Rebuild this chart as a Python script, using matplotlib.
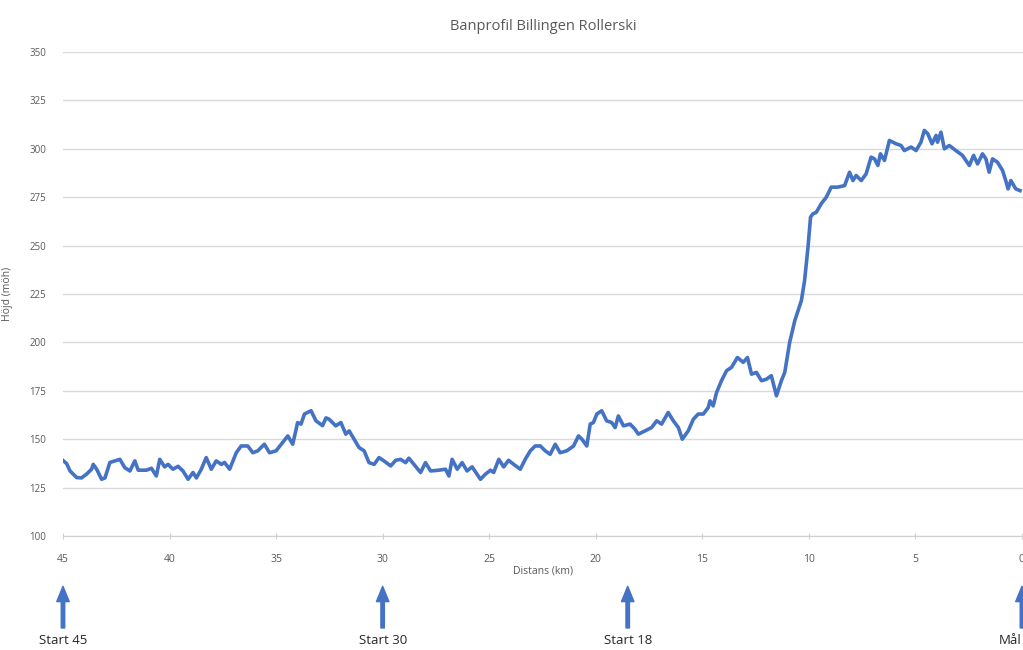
import matplotlib.pyplot as plt

plt.rcParams['font.family'] = ['Open Sans', 'DejaVu Sans']

# distance left to finish (km) and elevation (m.ö.h.)
km = [45.0, 44.83, 44.67, 44.36, 44.13, 43.89, 43.66, 43.58, 43.42, 43.19, 43.03, 42.80, 42.57, 42.33,
      42.10, 41.86, 41.63, 41.47, 41.08, 40.85, 40.62, 40.46, 40.23, 40.07, 39.84, 39.60, 39.37, 39.13,
      38.90, 38.74, 38.51, 38.28, 38.04, 37.81, 37.57, 37.42, 37.18, 36.87, 36.64, 36.33, 36.09, 35.86,
      35.55, 35.31, 35.00, 34.69, 34.45, 34.22, 33.99, 33.83, 33.67, 33.36, 33.13, 32.82, 32.66,
      32.51, 32.2, 31.96, 31.73, 31.57, 31.34, 31.11, 30.87, 30.64, 30.40, 30.17, 29.94, 29.62, 29.39,
      29.16, 28.92, 28.77, 28.53, 28.22, 27.99, 27.75, 27.36, 27.05, 26.89, 26.74, 26.50, 26.27, 26.04,
      25.80, 25.57, 25.41, 25.18, 24.94, 24.79, 24.55, 24.32, 24.09, 23.85, 23.54, 23.31, 23.07, 22.84,
      22.60, 22.37, 22.14, 21.90, 21.67, 21.36, 21.04, 20.81, 20.65, 20.42, 20.26, 20.11, 19.95, 19.72,
      19.49, 19.25, 19.09, 18.94, 18.70, 18.39, 18.16, 18.00, 17.69, 17.38, 17.14, 16.91, 16.60, 16.36,
      16.12, 15.94, 15.66, 15.42, 15.19, 14.95, 14.72,
      14.64, 14.49, 14.33, 14.10, 13.86, 13.63, 13.35, 13.08, 12.88, 12.69, 12.46, 12.22, 11.99, 11.76,
      11.52, 11.29, 11.13, 10.90, 10.66, 10.35, 10.20, 10.04, 9.92, 9.81, 9.65, 9.42, 9.18, 8.95, 8.64,
      8.32, 8.09, 7.93, 7.78, 7.54, 7.31, 7.08, 6.92, 6.76, 6.64, 6.45, 6.22, 5.91, 5.67, 5.52, 5.20,
      4.97, 4.74, 4.58, 4.42, 4.22, 4.03, 3.96, 3.80, 3.64, 3.41, 3.10, 2.79, 2.47, 2.27, 2.08, 1.85,
      1.69, 1.54, 1.38, 1.15, 0.91, 0.76, 0.65, 0.52, 0.29, 0.09]

hojd = [139, 137.4, 133.6, 130.2, 130, 132, 134.5, 137, 134.5, 129.3, 130, 138, 138.8, 139.6,
        135.3, 133.6, 138.8, 134, 134, 135, 131, 139.6, 135.7, 137, 134.5, 136, 133.6, 129.3,
        132.8, 130, 134.5, 140.5, 134.5, 138.8, 137, 138, 134.5, 143, 146.5, 146.5, 143, 144,
        147.4, 143, 144, 148.3, 151.7, 147.4, 158.6, 157.8, 163, 164.7, 159.5, 157, 161,
        160.3, 156.9, 158.6, 152.6, 154.3, 150, 145.7, 144, 137.9, 137, 140.5, 138.8, 136.2, 139.1,
        139.6, 137.9, 140.2, 137, 132.8, 137.9, 133.6, 134, 134.5, 131, 139.6, 134.5, 137.9, 133.6,
        135.7, 131.9, 129.3, 131.9, 134, 132.8, 139.6, 135.7, 139.1, 137, 134.5, 139.6, 144, 146.5,
        146.5, 144, 142.2, 147.4, 143, 144, 146.5, 151.7, 150, 146.5, 157.8, 158.6, 163, 164.7,
        159.5, 158.6, 156, 162, 156.9, 157.8, 155.2, 152.6, 154.3, 156, 159.5, 157.8, 163.8, 159.5,
        156, 150, 154.3, 160.3, 163, 163, 166.4,
        169.8, 167.2, 174.1, 180.2, 185.4, 187.1, 192.2, 189.7, 192.2, 183.6, 184.5, 180.2, 181, 182.8,
        172.4, 180.2, 184.5, 200, 211.2, 221.6, 231.9, 249.1, 264.7, 266.4, 267.2, 271.6, 275, 280.2, 280.2,
        281, 287.9, 283.6, 286.2, 283.6, 287.1, 295.7, 294.8, 291.4, 297.4, 294, 304.3, 302.6, 301.7, 299.1, 300.9,
        299.1, 303.4, 309.5, 307.8, 302.6, 306.9, 303.4, 308.6, 300, 301.7, 299.1, 296.6, 291.4, 296.6, 292.2, 297.4,
        294.8, 287.9, 294.8, 293.1, 288.8, 283.6, 279.3, 283.6, 279.3, 278.4]

starts = [45, 30, 18.5, 0]
start_labels = ['Start 45', 'Start 30', 'Start 18', 'Mål']

blue = '#4472C4'
grey = '#595959'

fig = plt.figure(figsize=(10.23, 6.5), dpi=100)
ax = fig.add_axes([63 / 1023, 114 / 650, 960 / 1023, 484 / 650])

ax.plot(km, hojd, color=blue, linewidth=2.6, solid_joinstyle='round')

ax.set_xlim(45, -0.05)
ax.set_ylim(100, 350)
ax.set_xticks([45, 40, 35, 30, 25, 20, 15, 10, 5, 0])
ax.set_yticks(range(100, 351, 25))
ax.grid(axis='y', color='#d9d9d9', linewidth=1)
ax.set_axisbelow(True)

for s in ['top', 'right', 'left']:
    ax.spines[s].set_visible(False)
ax.spines['bottom'].set_color('#d0d0d0')
ax.tick_params(axis='x', colors='#d0d0d0', length=4, direction='inout', labelsize=7.5,
               labelcolor=grey, pad=11)
ax.tick_params(axis='y', length=0, labelsize=7, labelcolor=grey, pad=12)

ax.set_title('Banprofil Billingen Rollerski', fontsize=10.5, color=grey, pad=16)
ax.set_xlabel('Distans (km)', fontsize=7.5, color=grey, labelpad=0)
ax.set_ylabel('Höjd (möh)', fontsize=7.5, color=grey, labelpad=12)

# start arrows below the axis
trans = ax.get_xaxis_transform()
for x, lab in zip(starts, start_labels):
    ax.annotate('', xy=(x, -0.104), xytext=(x, -0.19), xycoords=trans, textcoords=trans,
                arrowprops=dict(facecolor=blue, edgecolor=blue, width=2.5, headwidth=9, headlength=11),
                annotation_clip=False)
    # the finish label sits at the right edge, so anchor it on its right side
    ax.text(x, -0.216, lab, transform=trans, ha='right' if x == 0 else 'center', va='center',
            fontsize=9.5, color='#262626', clip_on=False)

fig.savefig('out.png', dpi=100)
